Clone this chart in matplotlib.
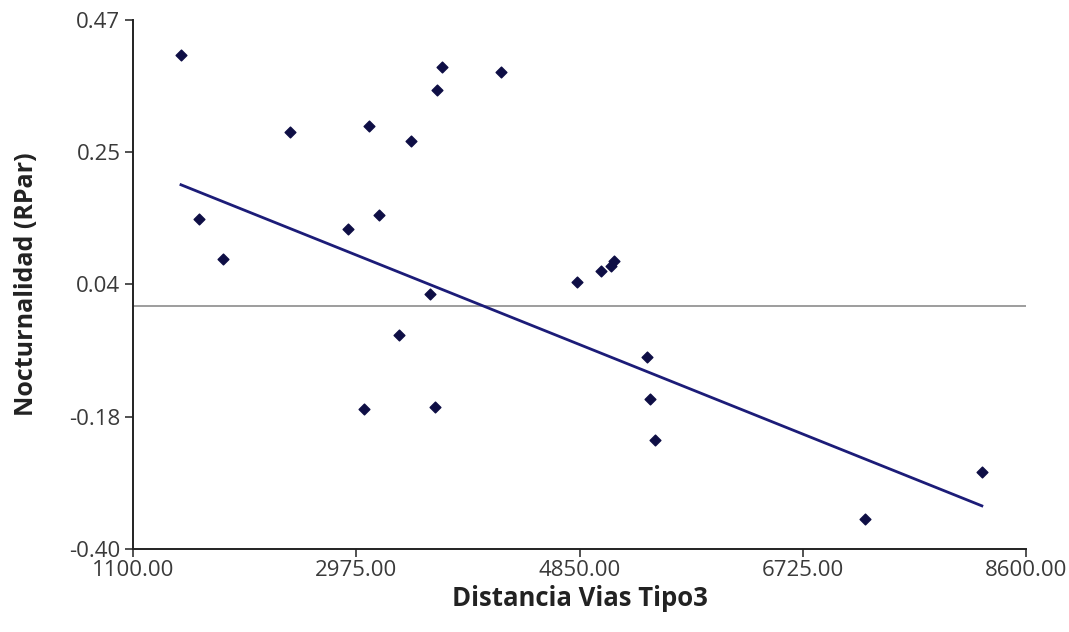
import numpy as np
import matplotlib
matplotlib.use('Agg')
import matplotlib.pyplot as plt
from matplotlib.ticker import FormatStrFormatter

# Values
distancia = [1503, 1654, 1856, 2418, 3079, 3437, 3692, 3650, 4188, 2908, 3166,
             3594, 4828, 5027, 5111, 5141, 3334, 3037, 3633, 5413, 5441, 5486,
             7247, 8229]
nocturnalidad = [0.412, 0.143, 0.077, 0.286, 0.295, 0.271, 0.393, 0.355, 0.384,
                 0.127, 0.149, 0.020, 0.039, 0.058, 0.066, 0.074, -0.048, -0.170,
                 -0.167, -0.085, -0.154, -0.221, -0.351, -0.274]
# fitted line as drawn in the reference (ends at min / max distance)
trend_y = [0.199, -0.329]
x_ticks = [1100.00, 2975.00, 4850.00, 6725.00, 8600.00]
y_ticks = [-0.40, -0.1825, 0.035, 0.2525, 0.47]

plt.rcParams['font.family'] = ['Open Sans', 'DejaVu Sans']

fig = plt.figure(figsize=(10.69, 6.32), dpi=100)
ax = fig.add_axes([0.1244, 0.1313, 0.8354, 0.8371])

# Reference line at zero
ax.axhline(0, color='#8c8c8c', lw=1.2, zorder=1)

trend_x = [min(distancia), max(distancia)]
ax.plot(trend_x, trend_y, color='#1c1c78', lw=2, zorder=2)

ax.scatter(distancia, nocturnalidad, marker='D', s=30, color='#0e0e45', zorder=3)

ax.set_xlim(1100, 8600)
ax.set_ylim(-0.40, 0.47)
ax.set_xticks(x_ticks)
ax.set_yticks(y_ticks)
ax.xaxis.set_major_formatter(FormatStrFormatter('%.2f'))
ax.yaxis.set_major_formatter(FormatStrFormatter('%.2f'))
ax.tick_params(labelsize=16, colors='#333333', length=6, width=1.2)
ax.tick_params(axis='x', pad=2)
ax.tick_params(axis='y', pad=3)
ax.tick_params(labelcolor='#3a3a3a')

for side in ['top', 'right']:
    ax.spines[side].set_visible(False)
for side in ['left', 'bottom']:
    ax.spines[side].set_linewidth(1.4)
    ax.spines[side].set_color('#222222')

ax.set_xlabel('Distancia Vias Tipo3', fontsize=18.5, fontweight='bold', color='#222222', labelpad=3)
ax.set_ylabel('Nocturnalidad (RPar)', fontsize=18, fontweight='bold', color='#222222', labelpad=22)

plt.savefig('out.png', dpi=100)
